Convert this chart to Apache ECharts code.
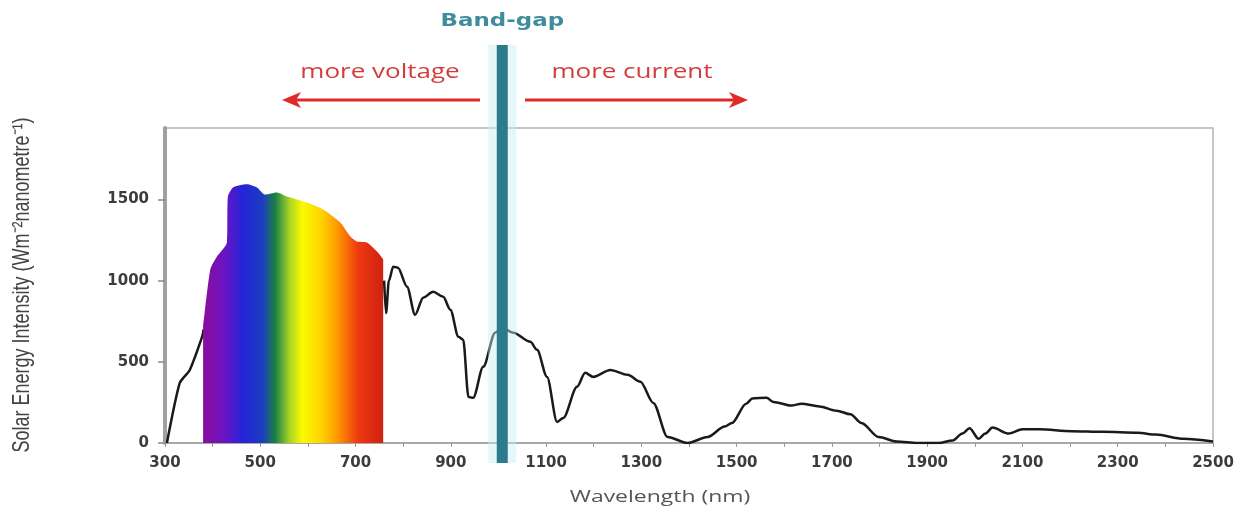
<!DOCTYPE html>
<html>
<head>
<meta charset="utf-8">
<script src="https://cdn.jsdelivr.net/npm/echarts@6/dist/echarts.min.js"></script>
<style>
  html, body { margin: 0; padding: 0; background: #fff; }
  #chart { width: 1249px; height: 511px; }
</style>
</head>
<body>
<div id="chart"></div>
<script>
// UV part of the curve (black line, left of the rainbow)
const wavelengthUv = [304, 331, 352, 378, 381]
const intensityUv = [0, 370, 450, 655, 700]

// visible part, filled with the rainbow
const wavelengthVisible = [380, 395, 409, 430, 432, 443, 472, 493, 510, 535, 556, 598, 632, 668, 689, 703, 724, 747, 758]
const intensityVisible = [716, 1068, 1148, 1235, 1518, 1574, 1593, 1574, 1530, 1543, 1518, 1481, 1438, 1358, 1272, 1241, 1235, 1173, 1130]

// infrared part (black line)
const wavelengthIr = [760, 764, 770, 779, 789, 808, 825, 842, 863, 884, 899, 916, 926, 937, 947, 968, 993, 1008, 1031, 1067,
    1081, 1102, 1123, 1136, 1165, 1182, 1199, 1235, 1271, 1298, 1325, 1355, 1397, 1439, 1475, 1490, 1520, 1533, 1563, 1577,
    1615, 1636, 1674, 1710, 1739, 1762, 1798, 1836, 1880, 1924, 1953, 1974, 1989, 2008, 2022, 2037, 2071, 2100, 2136, 2203,
    2269, 2342, 2380, 2438, 2500]
const intensityIr = [1000, 800, 1000, 1086, 1080, 963, 790, 895, 932, 901, 821, 654, 636, 284, 278, 469, 679, 710, 679, 623,
    574, 407, 130, 154, 346, 432, 407, 450, 420, 377, 247, 37, 0, 37, 101, 123, 242, 274, 279, 253,
    231, 242, 225, 199, 177, 123, 37, 9, 0, 0, 15, 58, 91, 26, 58, 95, 58, 84, 84, 73,
    69, 63, 52, 26, 9]

const xTickLabels = [300, 500, 700, 900, 1100, 1300, 1500, 1700, 1900, 2100, 2300, 2500]
const yTickLabels = [0, 500, 1000, 1500]
const bandGapNm = 1008

const rainbowStops = [
    { offset: 0, color: '#8c0c9c' },
    { offset: 0.12, color: '#6a14c4' },
    { offset: 0.22, color: '#2424d8' },
    { offset: 0.33, color: '#1c3cc0' },
    { offset: 0.40, color: '#1a8044' },
    { offset: 0.48, color: '#a8d428' },
    { offset: 0.55, color: '#fafa00' },
    { offset: 0.66, color: '#ffd200' },
    { offset: 0.75, color: '#ff9400' },
    { offset: 0.86, color: '#ee3a12' },
    { offset: 1, color: '#d02010' }
]

const zip = (xs, ys) => xs.map((x, i) => [x, ys[i]])

const chart = echarts.init(document.getElementById('chart'))
const labelFont = 'DejaVu Sans'

chart.setOption({
    animation: false,
    backgroundColor: '#fff',
    grid: {
        left: 165, right: 36, top: 128, bottom: 68,
        show: true,
        borderColor: '#b4b4b4',
        borderWidth: 1.5
    },
    xAxis: {
        type: 'value',
        min: 300,
        max: 2500,
        interval: 100,
        axisLine: { lineStyle: { color: '#a8a8a8', width: 2 } },
        axisTick: { show: true, length: 4, lineStyle: { color: '#999' } },
        splitLine: { show: false },
        axisLabel: {
            margin: 13,
            color: '#3c3c3c',
            fontFamily: labelFont,
            fontWeight: 'bold',
            fontSize: 15,
            formatter: v => xTickLabels.includes(v) ? String(v) : ''
        }
    },
    yAxis: {
        type: 'value',
        min: 0,
        max: 1940,
        interval: 500,
        axisLine: { show: true, lineStyle: { color: '#a0a0a0', width: 4 } },
        axisTick: { show: true, length: 7, lineStyle: { color: '#888', width: 1.5 } },
        splitLine: { show: false },
        axisLabel: {
            margin: 16,
            showMaxLabel: false,
            color: '#3c3c3c',
            fontFamily: labelFont,
            fontWeight: 'bold',
            fontSize: 15,
            formatter: v => yTickLabels.includes(v) ? String(v) : ''
        }
    },
    series: [
        {
            type: 'line',
            name: 'visible',
            data: zip(wavelengthVisible, intensityVisible),
            showSymbol: false,
            smooth: 0.2,
            lineStyle: { width: 0 },
            areaStyle: {
                opacity: 1,
                color: new echarts.graphic.LinearGradient(0, 0, 1, 0, rainbowStops)
            },
            z: 3
        },
        {
            type: 'line',
            name: 'uv',
            data: zip(wavelengthUv, intensityUv),
            showSymbol: false,
            smooth: 0.2,
            lineStyle: { color: '#1a1a1a', width: 2.5 },
            z: 2
        },
        {
            type: 'line',
            name: 'infrared',
            data: zip(wavelengthIr, intensityIr),
            showSymbol: false,
            smooth: 0.3,
            smoothMonotone: 'x',
            lineStyle: { color: '#1a1a1a', width: 2.5 },
            z: 3
        }
    ]
})

// annotations placed from the axis scale
const gapX = chart.convertToPixel({ xAxisIndex: 0 }, bandGapNm)
const red = '#e02a2a'

chart.setOption({
    graphic: [
        {
            type: 'rect', z: 90,
            shape: { x: gapX - 14, y: 45, width: 28, height: 418 },
            style: { fill: 'rgba(200, 238, 246, 0.45)' }
        },
        {
            type: 'rect', z: 91,
            shape: { x: gapX - 5.5, y: 45, width: 11, height: 418 },
            style: { fill: '#2d7a8d' }
        },
        {
            type: 'text', z: 92, x: gapX, y: 22, scaleX: 1.35,
            style: {
                text: 'Band-gap', fill: '#3f8c9c', font: 'bold 17px "DejaVu Sans"',
                align: 'center', verticalAlign: 'middle'
            }
        },
        {
            type: 'text', z: 92, x: 380, y: 72, scaleX: 1.3,
            style: {
                text: 'more voltage', fill: '#d43c3c', font: '20px "Open Sans"',
                align: 'center', verticalAlign: 'middle'
            }
        },
        {
            type: 'text', z: 92, x: 632, y: 72, scaleX: 1.3,
            style: {
                text: 'more current', fill: '#d43c3c', font: '20px "Open Sans"',
                align: 'center', verticalAlign: 'middle'
            }
        },
        {
            type: 'line', z: 92,
            shape: { x1: 480, y1: 100, x2: 294, y2: 100 },
            style: { stroke: red, lineWidth: 3 }
        },
        {
            type: 'polygon', z: 92,
            shape: { points: [[282, 100], [301, 92], [296, 100], [301, 108]] },
            style: { fill: red }
        },
        {
            type: 'line', z: 92,
            shape: { x1: 525, y1: 100, x2: 736, y2: 100 },
            style: { stroke: red, lineWidth: 3 }
        },
        {
            type: 'polygon', z: 92,
            shape: { points: [[748, 100], [729, 92], [734, 100], [729, 108]] },
            style: { fill: red }
        },
        {
            type: 'text', z: 92, x: 660, y: 497, scaleX: 1.35,
            style: {
                text: 'Wavelength (nm)', fill: '#555', font: '17px "Open Sans"',
                align: 'center', verticalAlign: 'middle'
            }
        },
        {
            type: 'text', z: 92, x: 23, y: 285, rotation: Math.PI / 2, scaleY: 1.3,
            style: {
                text: 'Solar Energy Intensity (Wm⁻²nanometre⁻¹)', fill: '#444', font: '18px "Liberation Sans"',
                align: 'center', verticalAlign: 'middle'
            }
        }
    ]
})
</script>
</body>
</html>
